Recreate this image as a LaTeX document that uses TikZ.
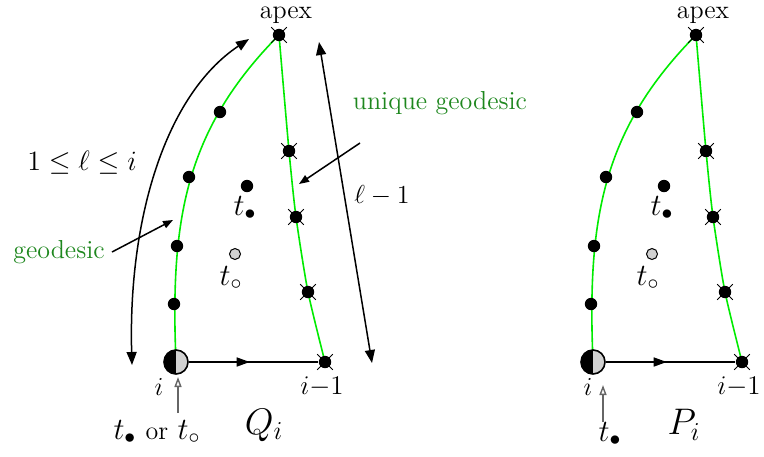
\documentclass[tikz,border=0pt]{standalone}
\usepackage{fix-cm}
\usetikzlibrary{arrows.meta,decorations.markings}
\definecolor{geoline}{RGB}{0,235,0}
\definecolor{geotext}{RGB}{30,135,30}
\newcommand\fs[1]{\fontsize{#1}{#1}\selectfont}
\newcommand\drawfig[1]{%
  \coordinate (#1a) at (279,35);
  \coordinate (#1l1) at (220,112);
  \coordinate (#1l2) at (189,177);
  \coordinate (#1l3) at (177,246);
  \coordinate (#1l4) at (174,304);
  \coordinate (#1b) at (176,362);
  \coordinate (#1r1) at (289,151);
  \coordinate (#1r2) at (296,217);
  \coordinate (#1r3) at (308,292);
  \coordinate (#1c) at (325,362);
  \draw[geo] (#1b) .. controls +(-6,-142) and +(-94,95) .. (#1a);
  \draw[geo] plot[smooth,tension=0.4] coordinates {(#1a) (#1r1) (#1r2) (#1r3) (#1c)};
  \node[dot] (#1nl1) at (#1l1) {};
  \node[dot] (#1nl2) at (#1l2) {};
  \node[dot] (#1nl3) at (#1l3) {};
  \node[dot] (#1nl4) at (#1l4) {};
  \node[dot] (#1na) at (#1a) {};
  \node[dot] (#1nr1) at (#1r1) {};
  \node[dot] (#1nr2) at (#1r2) {};
  \node[dot] (#1nr3) at (#1r3) {};
  \node[dot] (#1nc) at (#1c) {};
  \foreach \n in {a,r1,r2,r3,c}{
    \draw[crossl] (#1n\n.north east) -- (#1n\n.south west);
    \draw[crossl] (#1n\n.north west) -- (#1n\n.south east);
  }
  \node[halfdot] (#1nb) at (#1b) {};
  \draw[base,midarrow] (#1nb) -- (#1nc);
  \node[dot] (#1tb) at (247,186) {};
  \node[graydot] (#1tc) at (235,254) {};
  \node[txt,font=\fs{15.5}] (#1tbl) at (245,208) {$t_\bullet$};
  \node[txt,font=\fs{15.5}] (#1tcl) at (231,278) {$t_\circ$};
  \node[txt] (#1apex) at (286,15) {apex};
  \node[txt,font=\fs{13.5}] (#1cl) at (322,387) {$i{-}1$};
}
\begin{document}
\begin{tikzpicture}[x=0.5pt,y=-0.5pt,
  geo/.style={draw=geoline,line width=0.8pt},
  base/.style={line width=0.75pt},
  dot/.style={circle,fill=black,inner sep=0pt,minimum size=6.2pt},
  crossl/.style={line width=0.45pt,shorten <=-2.2pt,shorten >=-2.2pt},
  halfdot/.style={circle,draw=black,line width=0.8pt,fill=black!18,inner sep=0pt,minimum size=12pt,
    path picture={\fill[black] (path picture bounding box.north) rectangle (path picture bounding box.south west);}},
  graydot/.style={circle,draw=black,line width=0.5pt,fill=black!18,inner sep=0pt,minimum size=5.5pt},
  txt/.style={inner sep=0pt,font=\fs{13}},
  midarrow/.style={postaction={decorate},decoration={markings,mark=at position 0.47 with {\arrow{Triangle[length=6.5pt,width=4.5pt]}}}},
  bigtips/.style={{Triangle[length=6.5pt,width=5pt]}-{Triangle[length=6.5pt,width=5pt]}},
  ptr/.style={base,-{Triangle[length=5pt,width=3.8pt]}},
  upar/.style={line width=0.7pt,draw=black!60,-{Triangle[open,length=5pt,width=3.5pt]}}
]
\useasboundingbox (0,0) rectangle (764,456);
\drawfig{L}
\begin{scope}[shift={(417,0)}]
\drawfig{R}
\end{scope}
% left-only annotations
\coordinate (arcB) at (132,365);
\coordinate (arcT) at (249,39);
\draw[base,bigtips] (arcB) .. controls (128,220) and (165,95) .. (arcT);
\coordinate (lenB) at (372,363);
\coordinate (lenT) at (319,42);
\draw[base,bigtips] (lenB) -- (lenT);
\node[txt,font=\fs{14}] (ell) at (82,163) {$1\le\ell\le i$};
\node[txt] (lm1) at (382,196) {$\ell-1$};
\node[txt,text=geotext] (ug) at (440,103) {unique geodesic};
\node[txt,text=geotext] (geo) at (59,252) {geodesic};
\coordinate (ugs) at (360,143);
\coordinate (ugt) at (299,184);
\draw[ptr] (ugs) -- (ugt);
\coordinate (gs) at (112,252);
\coordinate (gt) at (173,220);
\draw[ptr] (gs) -- (gt);
% bottom labels left
\node[txt,font=\fs{13}] (Lil) at (159,387) {$i$};
\coordinate (Lup) at (178,413);
\coordinate (Lupt) at (178,377);
\draw[upar] (Lup) -- (Lupt);
\node[txt,font=\fs{15.5}] (tor) at (157,432) {$t_\bullet$ {\fs{13}or} $t_\circ$};
\node[txt,font=\fs{18.5}] (Q) at (264,425) {$Q_i$};
% bottom labels right
\node[txt,font=\fs{13}] (Ril) at (588,387) {$i$};
\coordinate (Rup) at (603,422);
\coordinate (Rupt) at (603,385);
\draw[upar] (Rup) -- (Rupt);
\node[txt,font=\fs{15.5}] (Rtl) at (610,434) {$t_\bullet$};
\node[txt,font=\fs{18.5}] (P) at (684,425) {$P_i$};
\end{tikzpicture}
\end{document}
